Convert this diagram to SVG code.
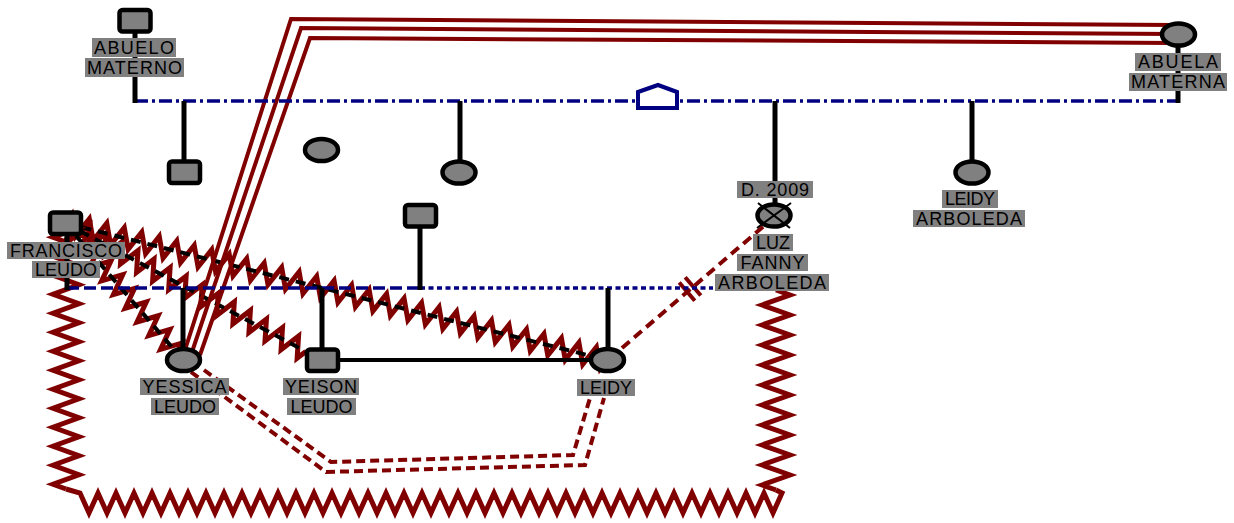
<svg xmlns="http://www.w3.org/2000/svg" width="1234" height="523" viewBox="0 0 1234 523">
<style>
.zz{fill:none;stroke:#800000;stroke-width:5;stroke-linejoin:miter}
.bd{fill:none;stroke:#000;stroke-width:4;stroke-dasharray:10 7}
.tri{fill:none;stroke:#800000;stroke-width:4}
.rd{fill:none;stroke:#800000;stroke-width:4;stroke-dasharray:10 6}
.rd2{fill:none;stroke:#800000;stroke-width:4;stroke-dasharray:9 5}
.blue1{fill:none;stroke:#000080;stroke-width:3.5;stroke-dasharray:13 4 3 4}
.blue2{fill:none;stroke:#000080;stroke-width:3.5;stroke-dasharray:12 5}
.blue3{fill:none;stroke:#000080;stroke-width:3.5;stroke-dasharray:5 3.5}
.ln{fill:none;stroke:#000;stroke-width:5}
.node{fill:#808080;stroke:#000;stroke-width:4.5}
.lb{fill:#808080}
.tx{font-family:"Liberation Sans",Arial,sans-serif;font-size:18px;fill:#000;text-anchor:middle}
</style>
<g id="connectors">
  <g transform="translate(65,223) rotate(14.19) scale(1.002,1)">
    <path class="zz" d="M0,0 l4.5,-10 9,20 9,-20 9,20 9,-20 9,20 9,-20 9,20 9,-20 9,20 9,-20 9,20 9,-20 9,20 9,-20 9,20 9,-20 9,20 9,-20 9,20 9,-20 9,20 9,-20 9,20 9,-20 9,20 9,-20 9,20 9,-20 9,20 9,-20 9,20 9,-20 9,20 9,-20 9,20 9,-20 9,20 9,-20 9,20 9,-20 9,20 9,-20 9,20 9,-20 9,20 9,-20 9,20 9,-20 9,20 9,-20 9,20 9,-20 9,20 9,-20 9,20 9,-20 9,20 9,-20 9,20 9,-20 9,20 4.5,-10"/>
  </g>
  <g transform="translate(65,223) rotate(28.06) scale(1.011,1)">
    <path class="zz" d="M0,0 l4.5,-10 9,20 9,-20 9,20 9,-20 9,20 9,-20 9,20 9,-20 9,20 9,-20 9,20 9,-20 9,20 9,-20 9,20 9,-20 9,20 9,-20 9,20 9,-20 9,20 9,-20 9,20 9,-20 9,20 9,-20 9,20 9,-20 9,20 4.5,-10"/>
  </g>
  <g transform="translate(65,223) rotate(49.26) scale(1.004,1)">
    <path class="zz" d="M0,0 l4.5,-10 9,20 9,-20 9,20 9,-20 9,20 9,-20 9,20 9,-20 9,20 9,-20 9,20 9,-20 9,20 9,-20 9,20 9,-20 9,20 9,-20 9,20 4.5,-10"/>
  </g>
  <line class="bd" x1="65" y1="223" x2="607" y2="360"/>
  <line class="bd" x1="65" y1="223" x2="322" y2="360"/>
  <line class="bd" x1="65" y1="223" x2="183" y2="360"/>
  <g transform="translate(66,223) rotate(90)">
    <path class="zz" d="M0,0 l4.75,-13 9.5,26 9.5,-26 9.5,26 9.5,-26 9.5,26 9.5,-26 9.5,26 9.5,-26 9.5,26 9.5,-26 9.5,26 9.5,-26 9.5,26 9.5,-26 9.5,26 9.5,-26 9.5,26 9.5,-26 9.5,26 9.5,-26 9.5,26 9.5,-26 9.5,26 9.5,-26 9.5,26 9.5,-26 9.5,26 4.75,-13"/>
  </g>
  <g transform="translate(80,493)">
    <path class="zz" d="M-14,-4 L0,0 l9,20 9,-20 9,20 9,-20 9,20 9,-20 9,20 9,-20 9,20 9,-20 9,20 9,-20 9,20 9,-20 9,20 9,-20 9,20 9,-20 9,20 9,-20 9,20 9,-20 9,20 9,-20 9,20 9,-20 9,20 9,-20 9,20 9,-20 9,20 9,-20 9,20 9,-20 9,20 9,-20 9,20 9,-20 9,20 9,-20 9,20 9,-20 9,20 9,-20 9,20 9,-20 9,20 9,-20 9,20 9,-20 9,20 9,-20 9,20 9,-20 9,20 9,-20 9,20 9,-20 9,20 9,-20 9,20 9,-20 9,20 9,-20 9,20 9,-20 9,20 9,-20 9,20 9,-20 9,20 9,-20 9,20 9,-20 9,20 9,-20 9,20 9,-20 L696,-3"/>
  </g>
  <g transform="translate(776,490) rotate(-90)">
    <path class="zz" d="M0,0 l5,-14 10,28 10,-28 10,28 10,-28 10,28 10,-28 10,28 10,-28 10,28 10,-28 10,28 10,-28 10,28 10,-28 10,28 10,-28 10,28 10,-28 10,28 5,-14"/>
  </g>
  <polyline class="tri" points="185,350 291,19 1175,25"/>
  <polyline class="tri" points="192,352 301,28 1175,34"/>
  <polyline class="tri" points="200,355 310,38 1175,43"/>
  <line class="rd" x1="622" y1="348" x2="765" y2="225"/>
  <line x1="679.2" y1="282.5" x2="694.8" y2="300.7" stroke="#800000" stroke-width="4"/>
  <line x1="685.2" y1="277.3" x2="700.8" y2="295.5" stroke="#800000" stroke-width="4"/>
  <polyline class="rd2" points="191,372 326,472 585,465 604,398"/>
  <polyline class="rd2" points="204,370 331,462 573,455 590,398"/>
  <line class="blue1" x1="135" y1="101" x2="1178" y2="101"/>
  <line class="blue2" x1="67" y1="288" x2="420" y2="288"/>
  <line class="blue3" x1="420" y1="288" x2="713" y2="288"/>
  <line class="ln" x1="135" y1="30" x2="135" y2="103"/>
  <line class="ln" x1="1178" y1="44" x2="1178" y2="103"/>
  <line class="ln" x1="184" y1="101" x2="184" y2="162"/>
  <line class="ln" x1="460" y1="101" x2="460" y2="162"/>
  <line class="ln" x1="775" y1="101" x2="775" y2="205"/>
  <line class="ln" x1="972" y1="101" x2="972" y2="162"/>
  <line class="ln" x1="420" y1="227" x2="420" y2="290"/>
  <line class="ln" x1="67" y1="233" x2="67" y2="290"/>
  <line class="ln" x1="183" y1="288" x2="183" y2="350"/>
  <line class="ln" x1="322" y1="288" x2="322" y2="350"/>
  <line class="ln" x1="608" y1="288" x2="608" y2="350"/>
  <line x1="338" y1="360" x2="592" y2="360" stroke="#000" stroke-width="4"/>
</g>
<g id="house">
  <path d="M638,92 L658,85 L677,92 L677,108 L638,108 Z" fill="#fff" stroke="#000080" stroke-width="4" stroke-linejoin="miter"/>
</g>
<g id="abuelo-materno">
  <rect class="node" x="119.5" y="10" width="31" height="21.5" rx="3"/>
  <rect class="lb" x="92" y="38" width="84" height="19"/>
  <text class="tx" x="134" y="54" textLength="80" lengthAdjust="spacing">ABUELO</text>
  <rect class="lb" x="85" y="58" width="99" height="19"/>
  <text class="tx" x="134.5" y="74" textLength="95" lengthAdjust="spacing">MATERNO</text>
</g>
<g id="abuela-materna">
  <ellipse class="node" cx="1178.5" cy="34.5" rx="16.5" ry="11"/>
  <rect class="lb" x="1135" y="53" width="86" height="18"/>
  <text class="tx" x="1178" y="68" textLength="80" lengthAdjust="spacing">ABUELA</text>
  <rect class="lb" x="1129" y="73" width="98" height="18"/>
  <text class="tx" x="1178" y="88" textLength="94" lengthAdjust="spacing">MATERNA</text>
</g>
<g id="hijo1">
  <rect class="node" x="169" y="161.5" width="31" height="21.5" rx="3"/>
</g>
<g id="hija1">
  <ellipse class="node" cx="321.5" cy="150" rx="16.5" ry="11"/>
</g>
<g id="hija2">
  <ellipse class="node" cx="459" cy="172.5" rx="16.5" ry="11"/>
</g>
<g id="pareja">
  <rect class="node" x="405" y="205" width="31" height="21.5" rx="3"/>
</g>
<g id="luz-fanny">
  <ellipse class="node" cx="774" cy="215.5" rx="16.5" ry="11"/>
  <line x1="758" y1="203" x2="790" y2="228" stroke="#000" stroke-width="2"/>
  <line x1="791" y1="203" x2="757" y2="228" stroke="#000" stroke-width="2"/>
  <rect class="lb" x="737" y="181" width="76" height="17"/>
  <text class="tx" x="775" y="196" textLength="68" lengthAdjust="spacing">D. 2009</text>
  <rect class="lb" x="753" y="234" width="40" height="17"/>
  <text class="tx" x="773" y="249" textLength="34" lengthAdjust="spacing">LUZ</text>
  <rect class="lb" x="737" y="254" width="71" height="17"/>
  <text class="tx" x="772.5" y="269" textLength="64" lengthAdjust="spacing">FANNY</text>
  <rect class="lb" x="715" y="274" width="114" height="17"/>
  <text class="tx" x="772" y="289" textLength="108" lengthAdjust="spacing">ARBOLEDA</text>
</g>
<g id="leidy-arboleda">
  <ellipse class="node" cx="972" cy="172.5" rx="16.5" ry="11"/>
  <rect class="lb" x="942" y="190" width="56" height="18"/>
  <text class="tx" x="970" y="205" textLength="50" lengthAdjust="spacing">LEIDY</text>
  <rect class="lb" x="913" y="210" width="112" height="17"/>
  <text class="tx" x="969" y="225" textLength="106" lengthAdjust="spacing">ARBOLEDA</text>
</g>
<g id="francisco-leudo">
  <rect class="node" x="50" y="212.5" width="31" height="21.5" rx="3"/>
  <rect class="lb" x="7" y="242" width="118" height="17"/>
  <text class="tx" x="66" y="257" textLength="112" lengthAdjust="spacing">FRANCISCO</text>
  <rect class="lb" x="32" y="261" width="68" height="17"/>
  <text class="tx" x="66" y="276" textLength="62" lengthAdjust="spacing">LEUDO</text>
</g>
<g id="yessica-leudo">
  <ellipse class="node" cx="183.5" cy="360" rx="16.5" ry="11"/>
  <rect class="lb" x="140" y="378" width="89" height="17"/>
  <text class="tx" x="184.5" y="393" textLength="84" lengthAdjust="spacing">YESSICA</text>
  <rect class="lb" x="151" y="398" width="68" height="17"/>
  <text class="tx" x="185" y="413" textLength="62" lengthAdjust="spacing">LEUDO</text>
</g>
<g id="yeison-leudo">
  <rect class="node" x="307" y="349.5" width="31" height="21.5" rx="3"/>
  <rect class="lb" x="283" y="378" width="76" height="17"/>
  <text class="tx" x="321" y="393" textLength="72" lengthAdjust="spacing">YEISON</text>
  <rect class="lb" x="287" y="398" width="69" height="17"/>
  <text class="tx" x="321.5" y="413" textLength="62" lengthAdjust="spacing">LEUDO</text>
</g>
<g id="leidy">
  <ellipse class="node" cx="607.5" cy="360" rx="16.5" ry="11"/>
  <rect class="lb" x="577" y="379" width="58" height="17"/>
  <text class="tx" x="606" y="394" textLength="52" lengthAdjust="spacing">LEIDY</text>
</g>
</svg>
